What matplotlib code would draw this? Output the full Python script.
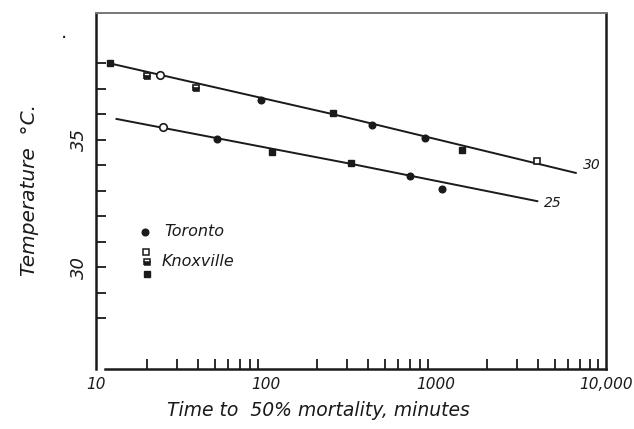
import matplotlib
matplotlib.use("Agg")
import matplotlib.pyplot as plt
from matplotlib.ticker import FixedLocator, NullFormatter, FixedFormatter

# ---- data ----
# Toronto (filled circles)
tor_x = [93, 422, 859, 51.7, 700, 1081]
tor_y = [36.55, 35.59, 35.09, 35.03, 33.57, 33.07]
# open circles
opc_x = [23.8, 24.9]
opc_y = [37.54, 35.51]
# Knoxville: open squares
kno_open_x = [3945]
kno_open_y = [34.17]
# Knoxville: half-filled squares
kno_half_x = [20.0, 38.5]
kno_half_y = [37.51, 37.02]
# Knoxville: filled squares
kno_fill_x = [12.1, 249, 1429, 108, 315]
kno_fill_y = [38.0, 36.07, 34.6, 34.53, 34.09]

# fitted lines (acclimation 30 and 25)
line30_x = [12.1, 250, 6640]
line30_y = [38.0, 36.0, 33.7]
line25_x = [13.2, 320, 3945]
line25_y = [35.82, 34.05, 32.59]
line_labels = ["30", "25"]

xtick_vals = [10, 100, 1000, 10000]
xtick_labels = ["10", "100", "1000", "10,000"]
ytick_vals = [30, 35]
ytick_labels = ["30", "35"]

# ---- figure ----
fig = plt.figure(figsize=(6.34, 4.29), dpi=100)
ax = fig.add_axes([96/634, 1 - 369/429, 510/634, (369 - 12.5)/429])
ax.set_xscale("log")
ax.set_xlim(10, 10000)
ax.set_ylim(26, 40)

ink = "#1a1a1a"
lw = 1.4
ax.plot(line30_x, line30_y, color=ink, lw=lw, zorder=2)
ax.plot(line25_x, line25_y, color=ink, lw=lw, zorder=2)

ms = 4.8
ax.plot(tor_x, tor_y, "o", color=ink, ms=ms, ls="none", zorder=3)
ax.plot(opc_x, opc_y, "o", mfc="white", mec=ink, mew=1.2, ms=ms + 0.6, ls="none", zorder=3)
ax.plot(kno_open_x, kno_open_y, "s", mfc="white", mec=ink, mew=1.2, ms=ms, ls="none", zorder=3)
ax.plot(kno_half_x, kno_half_y, "s", fillstyle="bottom", color=ink, mfc=ink, mfcalt="white",
        mec=ink, mew=1.2, ms=ms, ls="none", zorder=3)
ax.plot(kno_fill_x, kno_fill_y, "s", color=ink, ms=ms, ls="none", zorder=3)

tfont = dict(family="DejaVu Sans", style="italic", color=ink)

ax.annotate(line_labels[0], xy=(line30_x[-1], line30_y[-1]), xytext=(5, 1),
            textcoords="offset points", fontsize=10, va="bottom", ha="left", **tfont)
ax.annotate(line_labels[1], xy=(line25_x[-1], line25_y[-1]), xytext=(5, -1),
            textcoords="offset points", fontsize=10, va="center", ha="left", **tfont)

# legend (hand placed)
lx = (145 - 96) / 510
def fy(py):
    return (369 - py) / (369 - 12.5)
ax.plot([lx], [fy(232)], "o", color=ink, ms=ms, transform=ax.transAxes, clip_on=False)
ax.text((164 - 96) / 510, fy(232), "Toronto", fontsize=11.5, va="center", ha="left",
        transform=ax.transAxes, **tfont)
ax.plot([lx + 0.002], [fy(251.5)], "s", mfc="white", mec=ink, mew=1.1, ms=4.2, transform=ax.transAxes)
ax.plot([lx + 0.003], [fy(262)], "s", fillstyle="bottom", mfc=ink, mfcalt="white", mec=ink,
        mew=1.1, ms=4.2, transform=ax.transAxes)
ax.plot([lx + 0.004], [fy(274)], "s", color=ink, ms=4.6, transform=ax.transAxes)
ax.text((162 - 96) / 510, fy(262), "Knoxville", fontsize=11.5, va="center", ha="left",
        transform=ax.transAxes, **tfont)

# axes styling
for side in ["left", "right", "bottom"]:
    ax.spines[side].set_color(ink)
    ax.spines[side].set_linewidth(1.8)
ax.spines["top"].set_color("#777777")
ax.spines["top"].set_linewidth(1.4)
ax.spines["bottom"].set_bounds(11.3, 10000)

ax.xaxis.set_major_locator(FixedLocator(xtick_vals))
ax.xaxis.set_major_formatter(FixedFormatter(xtick_labels))
minor_x = [m * 10 ** k for k in range(1, 4) for m in range(2, 10)] + [100, 1000]
ax.xaxis.set_minor_locator(FixedLocator(minor_x))
ax.xaxis.set_minor_formatter(NullFormatter())
ax.tick_params(axis="x", which="major", direction="in", length=0, pad=6, labelsize=11, colors=ink)
ax.tick_params(axis="x", which="minor", direction="in", length=7, width=1.3, colors=ink)
for lab in ax.get_xticklabels():
    lab.set_fontstyle("italic")

ax.yaxis.set_major_locator(FixedLocator(ytick_vals))
ax.yaxis.set_major_formatter(FixedFormatter(ytick_labels))
ax.yaxis.set_minor_locator(FixedLocator(list(range(28, 39))))
ax.yaxis.set_minor_formatter(NullFormatter())
ax.tick_params(axis="y", which="major", direction="in", length=7, width=1.3, pad=6,
               labelsize=13, colors=ink, labelrotation=90)
ax.tick_params(axis="y", which="minor", direction="in", length=7, width=1.3, colors=ink)
for lab in ax.get_yticklabels():
    lab.set_fontstyle("italic")
    lab.set_va("center")

ax.set_xlabel("Time to  50% mortality, minutes", fontsize=13.5, **tfont)
ax.xaxis.set_label_coords((318 - 96) / 510, (369 - 401) / 356.5)
fig.text(30 / 634, 1 - 190 / 429, "Temperature  °C.", rotation=90, fontsize=14.5,
         ha="center", va="center", **tfont)

fig.text(64 / 634, 1 - 33 / 429, ".", fontsize=14, color=ink, ha="center", va="center")

fig.savefig("out.png", dpi=100, facecolor="white")
